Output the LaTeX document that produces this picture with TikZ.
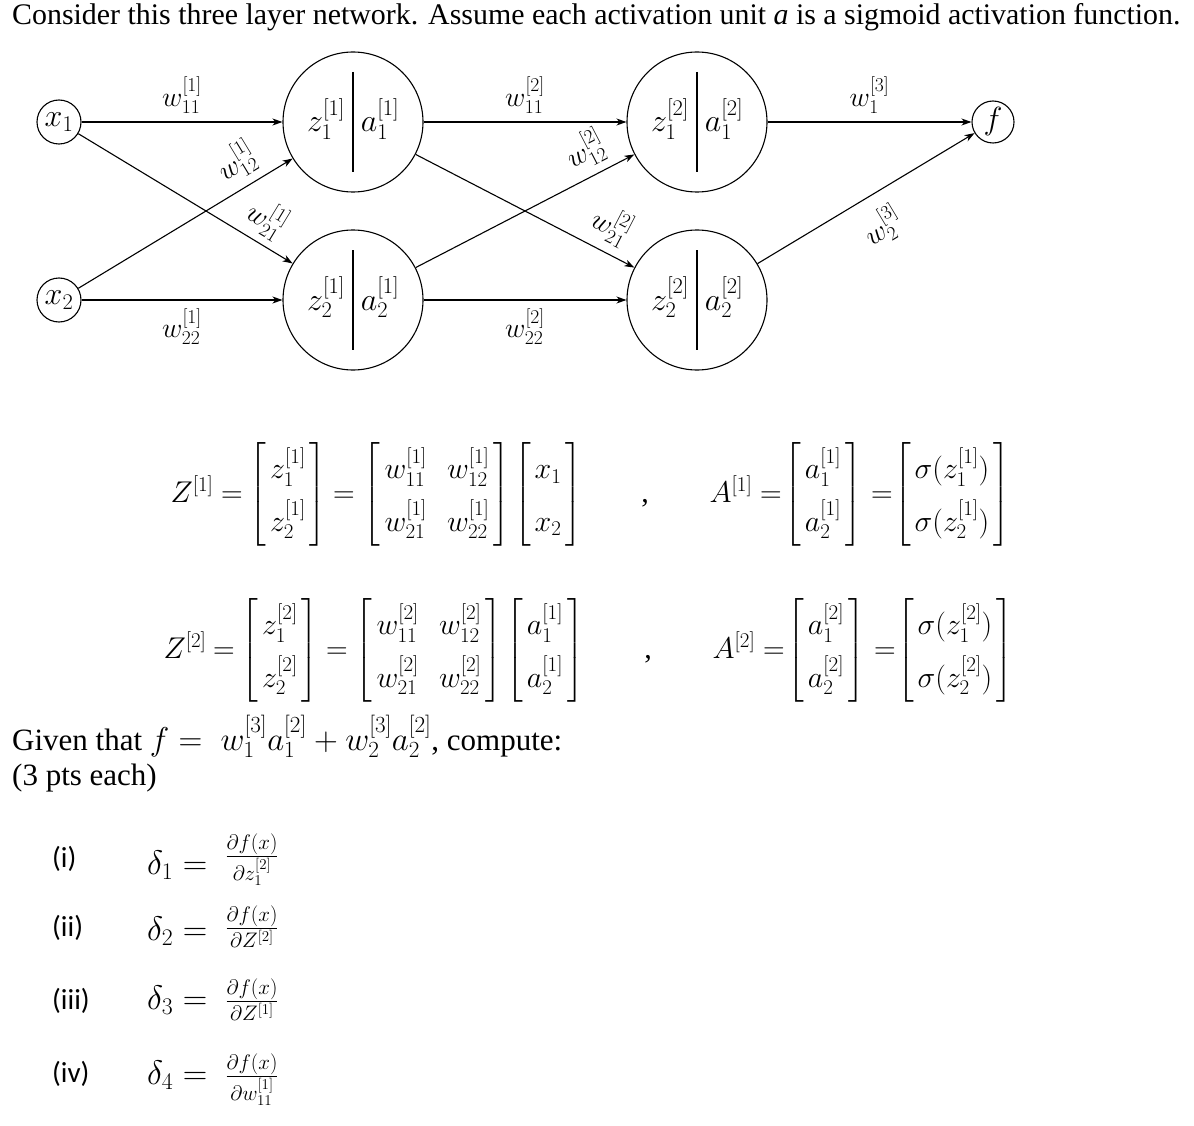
\RequirePackage{fix-cm}
\documentclass[tikz,border=0pt]{standalone}
\usepackage{amsmath}
\usepackage{fontspec}
\setmainfont{Liberation Serif}
\newfontfamily\partsfont{Carlito}
\usepackage{tikz}
\usetikzlibrary{positioning,arrows.meta,calc}

\newcommand{\titlefont}{\fontsize{29.9}{36}\selectfont}
\newcommand{\netfont}{\fontsize{32}{38}\selectfont}
\newcommand{\wfont}{\fontsize{28}{33}\selectfont}
\newcommand{\eqfont}{\fontsize{30}{36}\selectfont\renewcommand{\arraystretch}{1.45}}
\newcommand{\givenfont}{\fontsize{31}{36}\selectfont}
\newcommand{\givenmath}{\fontsize{33}{38}\selectfont}
\newcommand{\deltafont}{\fontsize{34}{40}\selectfont}
\newcommand{\fracfont}{\fontsize{30}{36}\selectfont}
\newcommand{\colvec}[2]{\left[\begin{array}{@{\hspace{4pt}}c@{\hspace{4pt}}}#1\\#2\end{array}\right]}
\newcommand{\sqmat}[4]{\left[\begin{array}{@{\hspace{4pt}}c@{\hspace{20pt}}c@{\hspace{4pt}}}#1 & #2\\#3 & #4\end{array}\right]}

\begin{document}
\begin{tikzpicture}[
    x=1pt, y=-1pt,
    unit/.style={draw, circle, line width=1.1pt, minimum size=44pt, inner sep=0pt, font=\netfont},
    neuron/.style={draw, circle, line width=1.1pt, minimum size=140pt, inner sep=0pt},
    inner/.style={anchor=base, inner sep=0pt, font=\netfont},
    arr/.style={-{Stealth[length=10pt, width=7pt, inset=3pt]}, line width=1.1pt},
    wlab/.style={font=\wfont, inner sep=2pt},
    eqn/.style={anchor=base, inner sep=0pt, font=\eqfont},
    part/.style={anchor=base west, inner sep=0pt, font=\partsfont\fontsize{29}{34}\selectfont},
    delta/.style={anchor=base west, inner sep=0pt, font=\deltafont},
    frac/.style={anchor=base, inner sep=0pt, font=\fracfont}
]
    \useasboundingbox (0,0) rectangle (1194,1126);
    \fill[white] (0,0) rectangle (1194,1126);

    % Title
    \node[anchor=base west, inner sep=0pt, font=\titlefont] (title) at (12,25)
        {Consider this three layer network. Assume each activation unit \textit{a} is a sigmoid activation function.};

    % Inputs
    \node[unit] (x1) at (59,122) {$x_1$};
    \node[unit] (x2) at (59,300) {$x_2$};

    % Hidden layer 1
    \node[neuron] (h11) at (353,122) {};
    \node[neuron] (h12) at (353,300) {};
    % Hidden layer 2
    \node[neuron] (h21) at (697,122) {};
    \node[neuron] (h22) at (697,300) {};
    % Output
    \node[unit, minimum size=42pt] (out) at (993,122) {$f$};

    % z | a split inside each neuron
    \draw[line width=1.1pt] ($(h11.center)+(0,-50)$) -- ($(h11.center)+(0,50)$);
    \draw[line width=1.1pt] ($(h12.center)+(0,-50)$) -- ($(h12.center)+(0,50)$);
    \draw[line width=1.1pt] ($(h21.center)+(0,-50)$) -- ($(h21.center)+(0,50)$);
    \draw[line width=1.1pt] ($(h22.center)+(0,-50)$) -- ($(h22.center)+(0,50)$);
    \node[inner] (z11) at ($(h11.center)+(-27,10)$) {$z_1^{[1]}$};
    \node[inner] (a11) at ($(h11.center)+(27,10)$) {$a_1^{[1]}$};
    \node[inner] (z12) at ($(h12.center)+(-27,10)$) {$z_2^{[1]}$};
    \node[inner] (a12) at ($(h12.center)+(27,10)$) {$a_2^{[1]}$};
    \node[inner] (z21) at ($(h21.center)+(-27,10)$) {$z_1^{[2]}$};
    \node[inner] (a21) at ($(h21.center)+(27,10)$) {$a_1^{[2]}$};
    \node[inner] (z22) at ($(h22.center)+(-27,10)$) {$z_2^{[2]}$};
    \node[inner] (a22) at ($(h22.center)+(27,10)$) {$a_2^{[2]}$};

    % Connections, layer 1
    \draw[arr] (x1) -- (h11) node[wlab, midway, above=6pt] {$w_{11}^{[1]}$};
    \draw[arr] (x2) -- (h11) node[wlab, pos=0.8, sloped, above=6pt] {$w_{12}^{[1]}$};
    \draw[arr] (x1) -- (h12) node[wlab, pos=0.82, sloped, above=5pt] {$w_{21}^{[1]}$};
    \draw[arr] (x2) -- (h12) node[wlab, midway, below=6pt] {$w_{22}^{[1]}$};
    % Connections, layer 2
    \draw[arr] (h11) -- (h21) node[wlab, midway, above=6pt] {$w_{11}^{[2]}$};
    \draw[arr] (h12) -- (h21) node[wlab, pos=0.83, sloped, above=6pt] {$w_{12}^{[2]}$};
    \draw[arr] (h11) -- (h22) node[wlab, pos=0.84, sloped, above=7pt] {$w_{21}^{[2]}$};
    \draw[arr] (h12) -- (h22) node[wlab, midway, below=6pt] {$w_{22}^{[2]}$};
    % Connections, output
    \draw[arr] (h21) -- (out) node[wlab, midway, above=6pt] {$w_1^{[3]}$};
    \draw[arr] (h22) -- (out) node[wlab, midway, sloped, below=12pt] {$w_2^{[3]}$};

    % Layer 1 equations
    \node[eqn] (Z1) at (192,502) {$Z^{[1]}$};
    \node[eqn] (Z1eq) at (232,502) {$=$};
    \node[eqn] (Z1vec) at (288,502) {$\colvec{z_1^{[1]}}{z_2^{[1]}}$};
    \node[eqn] (W1eq) at (344,502) {$=$};
    \node[eqn] (W1) at (437,502) {$\sqmat{w_{11}^{[1]}}{w_{12}^{[1]}}{w_{21}^{[1]}}{w_{22}^{[1]}}$};
    \node[eqn] (Xvec) at (548,502) {$\colvec{x_1}{x_2}$};
    \node[eqn] (comma1) at (645,502) {,};
    \node[eqn] (A1) at (731,502) {$A^{[1]}$};
    \node[eqn] (A1eq) at (771,502) {$=$};
    \node[eqn] (A1vec) at (823,502) {$\colvec{a_1^{[1]}}{a_2^{[1]}}$};
    \node[eqn] (S1eq) at (882,502) {$=$};
    \node[eqn] (S1vec) at (952,502) {$\colvec{\sigma(z_1^{[1]})}{\sigma(z_2^{[1]})}$};

    % Layer 2 equations
    \node[eqn] (Z2) at (185,658) {$Z^{[2]}$};
    \node[eqn] (Z2eq) at (224,658) {$=$};
    \node[eqn] (Z2vec) at (280,658) {$\colvec{z_1^{[2]}}{z_2^{[2]}}$};
    \node[eqn] (W2eq) at (337,658) {$=$};
    \node[eqn] (W2) at (429,658) {$\sqmat{w_{11}^{[2]}}{w_{12}^{[2]}}{w_{21}^{[2]}}{w_{22}^{[2]}}$};
    \node[eqn] (Avec) at (545,658) {$\colvec{a_1^{[1]}}{a_2^{[1]}}$};
    \node[eqn] (comma2) at (648,658) {,};
    \node[eqn] (A2) at (734,658) {$A^{[2]}$};
    \node[eqn] (A2eq) at (774,658) {$=$};
    \node[eqn] (A2vec) at (826,658) {$\colvec{a_1^{[2]}}{a_2^{[2]}}$};
    \node[eqn] (S2eq) at (885,658) {$=$};
    \node[eqn] (S2vec) at (955,658) {$\colvec{\sigma(z_1^{[2]})}{\sigma(z_2^{[2]})}$};

    % Question text
    \node[anchor=base west, inner sep=0pt, font=\givenfont] (given) at (12,750)
        {Given that {\givenmath$f =\; w_1^{[3]}a_1^{[2]} + w_2^{[3]}a_2^{[2]}$}, compute:};
    \node[anchor=base west, inner sep=0pt, font=\givenfont] (pts) at (12,785) {(3 pts each)};

    % Parts
    \node[part] (p1) at (52,867) {(i)};
    \node[delta] (d1) at (147,874) {$\delta_1 =$};
    \node[frac] (q1) at (252,864) {$\frac{\partial f(x)}{\partial z_1^{[2]}}$};
    \node[part] (p2) at (52,936) {(ii)};
    \node[delta] (d2) at (147,940) {$\delta_2 =$};
    \node[frac] (q2) at (252,936) {$\frac{\partial f(x)}{\partial Z^{[2]}}$};
    \node[part] (p3) at (52,1009) {(iii)};
    \node[delta] (d3) at (147,1009) {$\delta_3 =$};
    \node[frac] (q3) at (252,1009) {$\frac{\partial f(x)}{\partial Z^{[1]}}$};
    \node[part] (p4) at (52,1082) {(iv)};
    \node[delta] (d4) at (147,1084) {$\delta_4 =$};
    \node[frac] (q4) at (252,1084) {$\frac{\partial f(x)}{\partial w_{11}^{[1]}}$};
\end{tikzpicture}
\end{document}
